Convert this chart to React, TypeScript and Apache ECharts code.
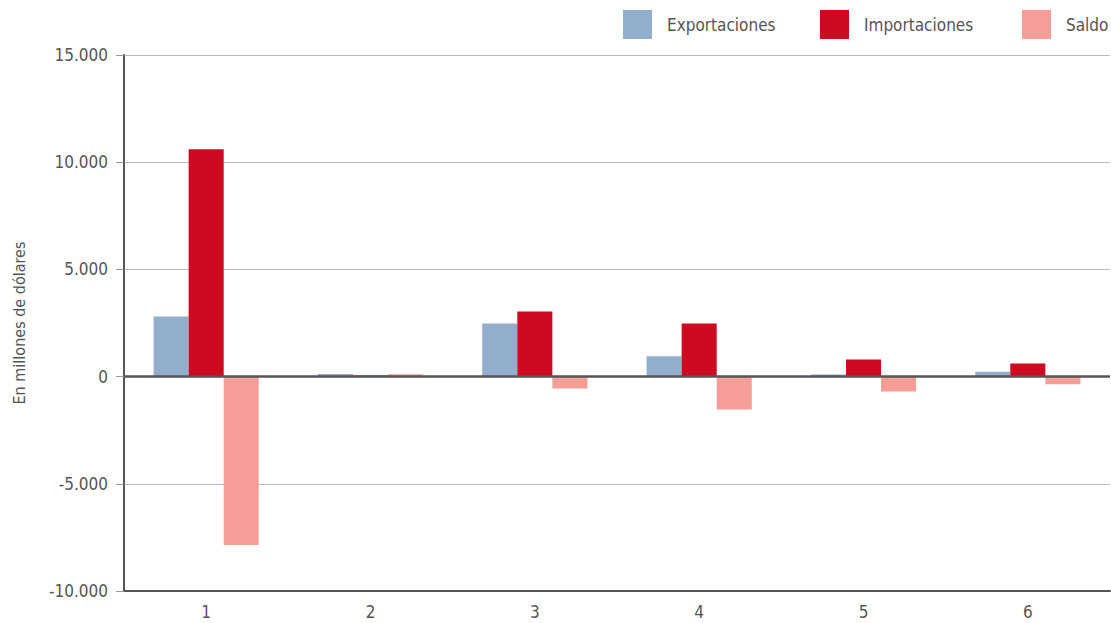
import React, { useEffect, useRef } from "react";
import * as echarts from "echarts";

const categories = ["1", "2", "3", "4", "5", "6"];
const exportaciones = [2800, 120, 2480, 950, 100, 230];
const importaciones = [10600, 50, 3040, 2480, 800, 610];
const saldo = [-7850, 110, -560, -1530, -690, -360];
const seriesNames = ["Exportaciones", "Importaciones", "Saldo"];
const colors = ["#92AECC", "#CC0A20", "#F49E97"];

const FONT = "'DejaVu Sans Condensed', 'Liberation Sans Narrow', sans-serif";

export default function App() {
  const ref = useRef<HTMLDivElement>(null);
  useEffect(() => {
    if (!ref.current) return;
    const chart = echarts.init(ref.current, undefined, { renderer: "svg" });
    const legendLefts = [623, 820, 1022];
    chart.setOption({
      animation: false,
      textStyle: { fontFamily: FONT },
      legend: seriesNames.map((n, i) => ({
        data: [n],
        left: legendLefts[i],
        top: 10,
        padding: 0,
        itemWidth: 29,
        itemHeight: 29,
        icon: "rect",
        selectedMode: false,
        textStyle: {
          fontFamily: FONT,
          fontSize: 17,
          color: "#555",
          padding: [0, 0, 0, 10],
        },
      })),
      grid: { left: 124, right: 1, top: 55, bottom: 32, containLabel: false, outerBoundsMode: "none" },
      xAxis: {
        type: "category",
        data: categories,
        position: "bottom",
        axisLine: { onZero: false, lineStyle: { color: "#555", width: 2 } },
        axisTick: { show: false },
        axisLabel: { color: "#555", fontSize: 17, margin: 12, fontFamily: FONT },
        splitLine: { show: false },
      },
      yAxis: {
        type: "value",
        min: -10000,
        max: 15000,
        interval: 5000,
        name: "En millones de dólares",
        nameLocation: "middle",
        nameGap: 97,
        nameTextStyle: { color: "#555", fontSize: 16, fontFamily: FONT },
        axisLine: { show: true, lineStyle: { color: "#555", width: 2 } },
        axisTick: { show: true, length: 8, lineStyle: { color: "#999", width: 1 } },
        axisLabel: {
          color: "#555",
          fontSize: 17,
          margin: 16,
          fontFamily: FONT,
          formatter: (v: number) =>
            v === 0 ? "0" : (v < 0 ? "-" : "") + Math.abs(v / 1000).toFixed(0) + ".000",
        },
        splitLine: { show: true, lineStyle: { color: "#BBBBBB", width: 1 } },
      },
      series: [
        {
          name: seriesNames[0],
          type: "bar",
          data: exportaciones,
          itemStyle: { color: colors[0] },
          barGap: "0%",
          barCategoryGap: "36%",
        },
        {
          name: seriesNames[1],
          type: "bar",
          data: importaciones,
          itemStyle: { color: colors[1] },
          barGap: "0%",
          barCategoryGap: "36%",
        },
        {
          name: seriesNames[2],
          type: "bar",
          data: saldo,
          itemStyle: { color: colors[2] },
          barGap: "0%",
          barCategoryGap: "36%",
          markLine: {
            silent: true,
            symbol: "none",
            label: { show: false },
            lineStyle: { color: "#555", width: 2.5, type: "solid" },
            data: [{ yAxis: 0 }],
          },
        },
      ],
    });
    return () => chart.dispose();
  }, []);
  return <div ref={ref} style={{ width: 1111, height: 623, position: "absolute", left: 0, top: 0 }} />;
}
